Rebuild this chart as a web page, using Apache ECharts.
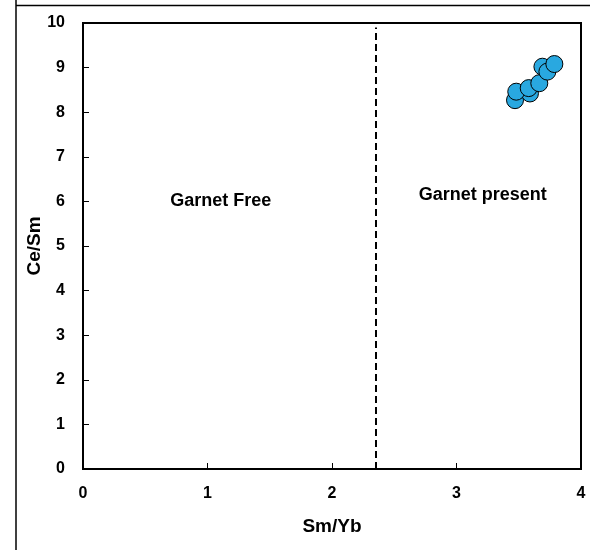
<!DOCTYPE html>
<html>
<head>
<meta charset="utf-8">
<script src="https://cdn.jsdelivr.net/npm/echarts@6/dist/echarts.min.js"></script>
<style>
  html, body { margin: 0; padding: 0; background: #fff; }
  #chart { width: 590px; height: 550px; }
</style>
</head>
<body>
<div id="chart"></div>
<script>
// Sm/Yb vs Ce/Sm samples
const smYb = [3.47, 3.59, 3.48, 3.58, 3.665, 3.69, 3.73, 3.786];
const ceSm = [8.27, 8.42, 8.46, 8.54, 8.65, 9.02, 8.91, 9.08];

// Garnet boundary on Sm/Yb
const garnetBoundary = 2.35;
const boundaryTop = 9.9;

// Field labels [x, y, text]
const fieldLabels = [
  [1.107, 6.0, 'Garnet Free'],
  [3.21, 6.14, 'Garnet present']
];

const xTicks = [0, 1, 2, 3, 4];
const yTicks = [0, 1, 2, 3, 4, 5, 6, 7, 8, 9, 10];

const FONT = '"Liberation Sans", Arial, sans-serif';

const chart = echarts.init(document.getElementById('chart'), null, { renderer: 'canvas' });

const points = smYb.map((x, i) => [x, ceSm[i]]);

chart.setOption({
  animation: false,
  backgroundColor: '#ffffff',
  grid: {
    left: 83, right: 9, top: 23, bottom: 81,
    show: true, borderColor: '#000', borderWidth: 2, backgroundColor: 'transparent'
  },
  graphic: [
    { type: 'line', shape: { x1: 16, y1: 0, x2: 16, y2: 550 }, style: { stroke: '#000', lineWidth: 1.5 }, silent: true, z: 0 },
    { type: 'line', shape: { x1: 16, y1: 5.5, x2: 590, y2: 5.5 }, style: { stroke: '#000', lineWidth: 1.5 }, silent: true, z: 0 }
  ],
  xAxis: {
    type: 'value',
    min: xTicks[0], max: xTicks[xTicks.length - 1], interval: 1,
    name: 'Sm/Yb', nameLocation: 'middle', nameGap: 48, nameMoveOverlap: false,
    nameTextStyle: { fontFamily: FONT, fontWeight: 'bold', fontSize: 19, color: '#000' },
    axisLine: { show: true, lineStyle: { color: '#000', width: 2 } },
    axisTick: { show: true, inside: true, length: 6, lineStyle: { color: '#000', width: 1 } },
    axisLabel: { margin: 17, fontFamily: FONT, fontWeight: 'bold', fontSize: 16, color: '#000' },
    splitLine: { show: false }
  },
  yAxis: {
    type: 'value',
    min: yTicks[0], max: yTicks[yTicks.length - 1], interval: 1,
    name: 'Ce/Sm', nameLocation: 'middle', nameGap: 48, nameRotate: 90, nameMoveOverlap: false,
    nameTextStyle: { fontFamily: FONT, fontWeight: 'bold', fontSize: 19, color: '#000', verticalAlign: 'middle' },
    axisLine: { show: true, lineStyle: { color: '#000', width: 2 } },
    axisTick: { show: true, inside: true, length: 6, lineStyle: { color: '#000', width: 1 } },
    axisLabel: { margin: 18, fontFamily: FONT, fontWeight: 'bold', fontSize: 16, color: '#000' },
    splitLine: { show: false }
  },
  series: [
    {
      type: 'scatter',
      data: points,
      symbol: 'circle',
      symbolSize: 17,
      itemStyle: { color: '#29a8e0', borderColor: '#000', borderWidth: 1, opacity: 1 },
      markLine: {
        silent: true,
        symbol: ['none', 'none'],
        label: { show: false },
        lineStyle: { color: '#000', width: 2, type: [7, 4] },
        data: [[{ coord: [garnetBoundary, 0] }, { coord: [garnetBoundary, boundaryTop] }]]
      },
      z: 5
    },
    {
      type: 'scatter',
      data: fieldLabels.map(d => ({ value: [d[0], d[1]], name: d[2] })),
      symbolSize: 0,
      silent: true,
      itemStyle: { opacity: 1 },
      label: {
        show: true, position: 'inside', formatter: p => p.name,
        fontFamily: FONT, fontWeight: 'bold', fontSize: 18, color: '#000'
      }
    }
  ]
});
</script>
</body>
</html>
